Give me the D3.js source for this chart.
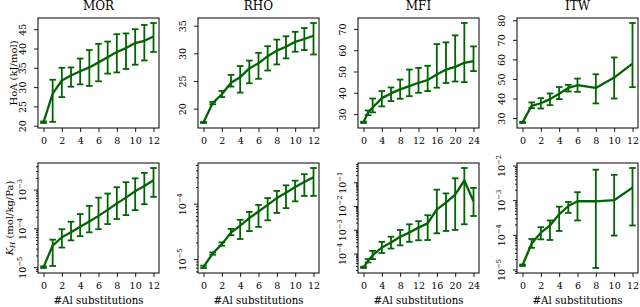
<!DOCTYPE html>
<html>
<head>
<meta charset="utf-8">
<script src="https://cdn.jsdelivr.net/npm/d3@7"></script>
<style>
  body { margin: 0; background: #fff; }
  text { font-family: "DejaVu Serif", serif; fill: #000; }
</style>
</head>
<body>
<script>
// zeolite names (column titles)
var names = ['MOR', 'RHO', 'MFI', 'ITW'];

// #Al substitutions per zeolite
var morX = [0,1,2,3,4,5,6,7,8,9,10,11,12];
var rhoX = [0,1,2,3,4,5,6,7,8,9,10,11,12];
var mfiX = [0,1,2,4,6,8,10,12,14,16,18,20,22,24];
var itwX = [0,1,2,3,4,5,6,8,10,12];

// heat of adsorption (kJ/mol): mean, lower, upper
var morHoa   = [20.9,28.3,31.7,33.0,34.1,35.1,36.4,37.7,39.1,40.1,41.4,42.0,43.1];
var morHoaLo = [20.7,21.0,27.4,30.1,30.7,30.3,31.5,33.5,33.8,34.7,35.8,36.9,39.1];
var morHoaHi = [21.1,31.9,35.0,35.1,37.4,39.6,41.2,41.8,43.7,43.9,45.0,46.1,46.6];

var rhoHoa   = [17.5,21.0,22.6,24.7,25.7,27.3,28.2,29.5,30.5,31.2,32.1,32.6,33.2];
var rhoHoaLo = [17.4,20.8,22.1,24.0,22.9,24.6,25.4,26.9,28.0,29.1,30.3,30.6,29.8];
var rhoHoaHi = [17.6,21.2,23.2,26.1,27.7,28.7,30.1,31.3,32.5,33.1,33.9,34.6,35.5];

var mfiHoa   = [26.1,30.8,33.1,37.5,39.7,41.6,43.1,44.7,46.0,48.6,50.9,52.2,54.1,54.9];
var mfiHoaLo = [25.8,29.5,30.8,33.6,36.1,37.2,38.4,40.0,40.8,42.4,44.6,45.3,45.0,50.2];
var mfiHoaHi = [26.4,31.7,37.3,40.8,42.5,46.2,50.9,51.7,52.7,62.9,63.7,67.0,72.8,61.8];

var itwHoa   = [27.8,36.3,37.6,39.7,42.5,45.4,46.8,45.4,50.7,57.8];
var itwHoaLo = [27.5,35.1,34.9,36.6,39.7,43.6,43.4,37.5,40.0,45.8];
var itwHoaHi = [28.1,38.0,40.2,42.6,45.9,47.0,50.2,52.4,61.0,78.6];

// Henry coefficient K_H (mol/kg/Pa): mean, lower, upper
var morKh   = [1.0e-5,3.6e-5,5.9e-5,7.9e-5,1.1e-4,1.5e-4,2.1e-4,3.0e-4,4.4e-4,6.2e-4,9.1e-4,1.23e-3,1.74e-3];
var morKhLo = [0.95e-5,1.07e-5,3.2e-5,4.9e-5,6.3e-5,7.9e-5,9.5e-5,1.29e-4,1.74e-4,2.2e-4,2.95e-4,4.2e-4,6.5e-4];
var morKhHi = [1.05e-5,5.1e-5,9.5e-5,1.48e-4,2.34e-4,3.8e-4,6.2e-4,7.9e-4,1.15e-3,1.55e-3,1.95e-3,2.7e-3,3.6e-3];

var rhoKh   = [7.2e-6,1.26e-5,1.86e-5,3.0e-5,4.0e-5,5.5e-5,7.2e-5,9.5e-5,1.26e-4,1.58e-4,2.0e-4,2.45e-4,3.0e-4];
var rhoKhLo = [6.9e-6,1.2e-5,1.74e-5,2.7e-5,2.3e-5,3.2e-5,3.8e-5,5.0e-5,6.8e-5,8.3e-5,1.1e-4,1.38e-4,1.38e-4];
var rhoKhHi = [7.6e-6,1.32e-5,2.0e-5,3.5e-5,5.1e-5,7.1e-5,9.5e-5,1.26e-4,1.7e-4,2.14e-4,2.6e-4,3.4e-4,4.4e-4];

var mfiKh   = [2.6e-5,4.9e-5,8.5e-5,1.78e-4,2.9e-4,5.1e-4,7.6e-4,1.23e-3,1.86e-3,7.2e-3,1.38e-2,3.0e-2,1.2e-1,1.6e-2];
var mfiKhLo = [2.45e-5,4.2e-5,5.8e-5,1.05e-4,1.62e-4,2.2e-4,3.1e-4,3.6e-4,3.7e-4,7.1e-4,8.9e-4,9.8e-4,1.7e-3,3.8e-3];
var mfiKhHi = [2.8e-5,5.8e-5,1.29e-4,3.1e-4,5.1e-4,9.8e-4,1.7e-3,2.3e-3,4.1e-3,4.9e-2,3.4e-2,1.48e-1,4.0e-1,5.8e-2];

var itwKh   = [1.32e-5,5.6e-5,1.15e-4,1.86e-4,3.9e-4,6.8e-4,9.3e-4,9.3e-4,1.0e-3,2.3e-3];
var itwKhLo = [1.26e-5,4.2e-5,7.4e-5,7.1e-5,1.29e-4,4.3e-4,2.6e-4,1.1e-5,9.5e-5,1.86e-4];
var itwKhHi = [1.38e-5,7.6e-5,1.66e-4,2.6e-4,6.5e-4,8.9e-4,1.7e-3,7.6e-3,5.4e-3,8.5e-3];

// tick labels
var xTicks12 = [0,2,4,6,8,10,12];
var xTicks24 = [0,4,8,12,16,20,24];
var morHoaTicks = [20,25,30,35,40,45];
var rhoHoaTicks = [20,25,30,35];
var mfiHoaTicks = [30,40,50,60,70];
var itwHoaTicks = [30,40,50,60,70,80];
var morKhExp = [-5,-4,-3];
var rhoKhExp = [-5,-4];
var mfiKhExp = [-4,-3,-2,-1];
var itwKhExp = [-5,-4,-3,-2];

var panels = [
  {x: morX, xt: xTicks12, hoa: [morHoa, morHoaLo, morHoaHi], ht: morHoaTicks, kh: [morKh, morKhLo, morKhHi], ke: morKhExp},
  {x: rhoX, xt: xTicks12, hoa: [rhoHoa, rhoHoaLo, rhoHoaHi], ht: rhoHoaTicks, kh: [rhoKh, rhoKhLo, rhoKhHi], ke: rhoKhExp},
  {x: mfiX, xt: xTicks24, hoa: [mfiHoa, mfiHoaLo, mfiHoaHi], ht: mfiHoaTicks, kh: [mfiKh, mfiKhLo, mfiKhHi], ke: mfiKhExp},
  {x: itwX, xt: xTicks12, hoa: [itwHoa, itwHoaLo, itwHoaHi], ht: itwHoaTicks, kh: [itwKh, itwKhLo, itwKhHi], ke: itwKhExp}
];

var W = 640, H = 307;
var colLeft = [38, 198, 358, 517];
var pw = 121, ph = 110;
var rowTop = [18, 163];
var green = '#006400';

var svg = d3.select('body').append('svg')
  .attr('width', W).attr('height', H);

// 5% margins like matplotlib autoscale
function pad(lo, hi) {
  var d = (hi - lo) * 0.05;
  return [lo - d, hi + d];
}

function drawPanel(p, col, row) {
  var g = svg.append('g')
    .attr('transform', 'translate(' + colLeft[col] + ',' + rowTop[row] + ')');
  var isLog = row == 1;
  var series = isLog ? p.kh : p.hoa;

  var x = d3.scaleLinear()
    .domain(pad(d3.min(p.x), d3.max(p.x)))
    .range([0, pw]);

  var y;
  if (isLog) {
    var lg = pad(Math.log10(d3.min(series[1])), Math.log10(d3.max(series[2])));
    y = d3.scaleLog().domain([Math.pow(10, lg[0]), Math.pow(10, lg[1])]).range([ph, 0]);
  } else {
    y = d3.scaleLinear().domain(pad(d3.min(series[1]), d3.max(series[2]))).range([ph, 0]);
  }

  // x axis
  var xa = g.append('g').attr('transform', 'translate(0,' + ph + ')')
    .call(d3.axisBottom(x).tickValues(p.xt).tickSize(4).tickPadding(5).tickFormat(d3.format('d')));
  xa.selectAll('text').attr('font-size', 9.5).attr('font-family', 'DejaVu Serif');

  // y axis
  var ya;
  if (isLog) {
    var dom = y.domain();
    var minor = [];
    for (var e = Math.floor(Math.log10(dom[0])); e <= Math.ceil(Math.log10(dom[1])); e++) {
      for (var k = 2; k <= 9; k++) {
        var v = k * Math.pow(10, e);
        if (v >= dom[0] && v <= dom[1]) minor.push(v);
      }
    }
    g.append('g').attr('class', 'minor')
      .call(d3.axisLeft(y).tickValues(minor).tickSize(2).tickFormat(''))
      .select('.domain').remove();
    var majors = p.ke.map(function(e){ return Math.pow(10, e); });
    ya = g.append('g').call(d3.axisLeft(y).tickValues(majors).tickSize(4));
    ya.selectAll('text').each(function(d) {
      var t = d3.select(this).text('10');
      t.append('tspan').attr('dy', '-0.45em').attr('font-size', 6.8)
        .text('\u2212' + Math.abs(Math.round(Math.log10(d))));
    });
  } else {
    ya = g.append('g').call(d3.axisLeft(y).tickValues(p.ht).tickSize(4));
  }
  ya.selectAll('text')
    .attr('font-size', 9.5).attr('font-family', 'DejaVu Serif')
    .attr('x', 0).attr('dy', 0)
    .attr('text-anchor', 'middle')
    .attr('transform', 'translate(-12.5,0) rotate(-90)');

  g.selectAll('.domain').attr('stroke', 'none');
  g.selectAll('.tick line').attr('stroke', '#000').attr('stroke-width', 0.9);

  // error bars
  var eb = g.append('g').attr('stroke', green).attr('stroke-width', 1.8).attr('fill', 'none');
  p.x.forEach(function(xv, i) {
    var cx = x(xv), y0 = y(series[1][i]), y1 = y(series[2][i]);
    eb.append('line').attr('x1', cx).attr('x2', cx).attr('y1', y0).attr('y2', y1);
    eb.append('line').attr('x1', cx - 3.3).attr('x2', cx + 3.3).attr('y1', y0).attr('y2', y0);
    eb.append('line').attr('x1', cx - 3.3).attr('x2', cx + 3.3).attr('y1', y1).attr('y2', y1);
  });

  // mean line
  var line = d3.line()
    .x(function(d, i){ return x(p.x[i]); })
    .y(function(d){ return y(d); });
  g.append('path').datum(series[0])
    .attr('d', line)
    .attr('fill', 'none')
    .attr('stroke', green)
    .attr('stroke-width', 2.3)
    .attr('stroke-linejoin', 'round');

  // frame
  g.append('rect').attr('width', pw).attr('height', ph)
    .attr('fill', 'none').attr('stroke', '#000').attr('stroke-width', 1);

  if (row == 0) {
    g.append('text').attr('x', pw / 2).attr('y', -8.5)
      .attr('text-anchor', 'middle').attr('font-size', 12)
      .text(names[col]);
  } else {
    g.append('text').attr('x', pw / 2).attr('y', ph + 30.5)
      .attr('text-anchor', 'middle').attr('font-size', 10.3)
      .text('#Al substitutions');
  }
}

panels.forEach(function(p, i) {
  drawPanel(p, i, 0);
  drawPanel(p, i, 1);
});

// y axis labels
svg.append('text')
  .attr('transform', 'translate(16.5,' + (rowTop[0] + ph / 2) + ') rotate(-90)')
  .attr('text-anchor', 'middle').attr('font-size', 10)
  .text('HoA (kJ/mol)');

var kl = svg.append('text')
  .attr('transform', 'translate(12.7,' + (rowTop[1] + ph / 2) + ') rotate(-90)')
  .attr('text-anchor', 'middle').attr('font-size', 10);
kl.append('tspan').attr('font-style', 'italic').text('K');
kl.append('tspan').attr('font-style', 'italic').attr('font-size', 7).attr('dy', 2).text('H');
kl.append('tspan').attr('dy', -2).text(' (mol/kg/Pa)');
</script>
</body>
</html>
